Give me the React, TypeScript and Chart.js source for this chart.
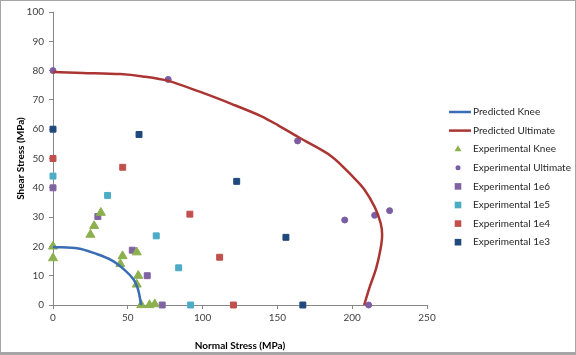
import React, { useEffect, useRef } from "react";
import { Chart, registerables } from "chart.js";

Chart.register(...registerables);

// Predicted envelopes
const predKneeX = [0, 17, 28, 39, 48, 54, 56.6, 57.7, 58.9];
const predKneeY = [19.8, 19.3, 17.6, 15.3, 11.9, 8.6, 5.7, 3.5, 0];
const predUltX = [0, 20, 45, 60, 77, 98, 120, 139, 150, 165, 186, 201, 208, 215, 219, 220, 219, 216, 211.4, 208];
const predUltY = [79.5, 79.2, 78.8, 78, 76.5, 72.8, 68.5, 64.5, 61.5, 57, 50.8, 43.5, 39.5, 33.5, 28, 24, 19.3, 12.5, 5.7, 0];

// Experimental
const expKneeX = [0, 0, 25, 27.5, 32, 45, 46.5, 56, 57, 56, 59, 64.5, 68];
const expKneeY = [20, 16, 24, 27, 31.5, 14, 16.7, 18, 10, 7, 0, 0, 0.3];
const expUltX = [0, 77, 163.5, 195, 215, 225, 211];
const expUltY = [80, 77, 56, 29, 30.6, 32.2, 0];
const exp1e6X = [0, 30, 53, 63, 73];
const exp1e6Y = [40, 30.2, 18.7, 10, 0];
const exp1e5X = [0, 36.5, 69, 84, 92];
const exp1e5Y = [44, 37.4, 23.6, 12.7, 0];
const exp1e4X = [0, 46.6, 91.5, 111.4, 120.6];
const exp1e4Y = [50, 47, 31, 16.3, 0];
const exp1e3X = [0, 57.5, 122.8, 155.7, 167];
const exp1e3Y = [60, 58.2, 42.2, 23.1, 0];

const seriesLabels = [
  "Predicted Knee",
  "Predicted Ultimate",
  "Experimental Knee",
  "Experimental Ultimate",
  "Experimental 1e6",
  "Experimental 1e5",
  "Experimental 1e4",
  "Experimental 1e3",
];

const xTitle = "Normal Stress (MPa)";
const yTitle = "Shear Stress (MPa)";

const pts = (xs: number[], ys: number[]) => xs.map((x, i) => ({ x, y: ys[i] }));

const FONT = "Lato";

function drawMarker(ctx: CanvasRenderingContext2D, style: string, x: number, y: number, r: number) {
  ctx.beginPath();
  if (style === "circle") {
    ctx.arc(x, y, r, 0, Math.PI * 2);
  } else if (style === "triangle") {
    ctx.moveTo(x, y - r);
    ctx.lineTo(x + r * 0.866, y + r * 0.5);
    ctx.lineTo(x - r * 0.866, y + r * 0.5);
    ctx.closePath();
  } else {
    ctx.rect(x - r, y - r, 2 * r, 2 * r);
  }
  ctx.fill();
}

const legendPlugin = {
  id: "customLegend",
  afterDraw(chart: any) {
    const ctx = chart.ctx;
    const area = chart.chartArea;
    const lineX0 = area.right + 22;
    const lineX1 = area.right + 44;
    const markX = area.right + 31;
    const textX = area.right + 44;
    const y0 = 111;
    const step = 18.6;
    ctx.save();
    ctx.font = `10px ${FONT}`;
    ctx.textBaseline = "middle";
    ctx.textAlign = "left";
    chart.data.datasets.forEach((ds: any, i: number) => {
      const y = y0 + i * step;
      if (ds.showLine) {
        ctx.strokeStyle = ds.borderColor;
        ctx.lineWidth = 2.5;
        ctx.beginPath();
        ctx.moveTo(lineX0, y);
        ctx.lineTo(lineX1, y);
        ctx.stroke();
      } else {
        ctx.fillStyle = ds.backgroundColor;
        const r = ds.pointStyle === "circle" ? 2.5 : ds.pointStyle === "triangle" ? 4 : 3.3;
        drawMarker(ctx, ds.pointStyle, markX, y, r);
      }
      ctx.fillStyle = "#262626";
      ctx.fillText(ds.label, textX + 2, y);
    });
    ctx.restore();
  },
};

export default function App() {
  const ref = useRef<HTMLCanvasElement>(null);
  useEffect(() => {
    document.body.style.margin = "0";
    const tickFont = { family: FONT, size: 10 };
    const titleFont = { family: FONT, size: 10, weight: "bold" as const };
    const scatter = (label: string, data: any, color: string, style: string, radius: number) => ({
      label,
      data,
      showLine: false,
      clip: false,
      pointStyle: style,
      pointRadius: radius,
      pointHoverRadius: radius,
      backgroundColor: color,
      borderColor: color,
      borderWidth: 1,
    });
    const chart = new Chart(ref.current!, {
      type: "scatter",
      data: {
        datasets: [
          {
            label: seriesLabels[0],
            data: pts(predKneeX, predKneeY),
            showLine: true,
            borderColor: "#3A6DB4",
            backgroundColor: "#3A6DB4",
            borderWidth: 2.5,
            pointRadius: 0,
            tension: 0.35,
          },
          {
            label: seriesLabels[1],
            data: pts(predUltX, predUltY),
            showLine: true,
            borderColor: "#AA3532",
            backgroundColor: "#AA3532",
            borderWidth: 2.5,
            pointRadius: 0,
            tension: 0.3,
          },
          scatter(seriesLabels[2], pts(expKneeX, expKneeY), "#8DB04F", "triangle", 5.2),
          scatter(seriesLabels[3], pts(expUltX, expUltY), "#7A5DA3", "circle", 3),
          scatter(seriesLabels[4], pts(exp1e6X, exp1e6Y), "#8064A2", "rect", 4.2),
          scatter(seriesLabels[5], pts(exp1e5X, exp1e5Y), "#4BACC6", "rect", 4.2),
          scatter(seriesLabels[6], pts(exp1e4X, exp1e4Y), "#C0504D", "rect", 4.2),
          scatter(seriesLabels[7], pts(exp1e3X, exp1e3Y), "#1F497D", "rect", 4.2),
        ] as any,
      },
      options: {
        animation: false,
        responsive: false,
        devicePixelRatio: 1,
        layout: { padding: { left: 0, top: 10, right: 148, bottom: 0 } },
        plugins: { legend: { display: false }, tooltip: { enabled: false } },
        scales: {
          x: {
            type: "linear",
            min: 0,
            max: 250,
            ticks: { stepSize: 50, font: tickFont, color: "#404040", padding: 3, maxRotation: 0 },
            grid: { drawOnChartArea: false, drawTicks: true, tickLength: 4, color: "#868686" },
            border: { display: true, color: "#868686" },
            title: { display: true, text: xTitle, font: titleFont, color: "#000", padding: { top: 12, bottom: 0 } },
            afterFit: (s: any) => {
              s.height = 47;
            },
          },
          y: {
            type: "linear",
            min: 0,
            max: 100,
            ticks: { stepSize: 10, font: tickFont, color: "#404040", padding: 5 },
            grid: { drawOnChartArea: false, drawTicks: true, tickLength: 4, color: "#868686" },
            border: { display: true, color: "#868686" },
            title: { display: true, text: yTitle, font: titleFont, color: "#000", padding: { top: 14, bottom: 0 } },
            afterFit: (s: any) => {
              s.width = 52;
            },
          },
        },
      } as any,
      plugins: [legendPlugin],
    });
    return () => chart.destroy();
  }, []);
  return (
    <div
      style={{
        width: 576,
        height: 355,
        boxSizing: "border-box",
        border: "1px solid #a6a6a6",
        borderBottomWidth: 3,
        background: "#fff",
      }}
    >
      <canvas ref={ref} width={574} height={351} style={{ display: "block" }} />
    </div>
  );
}
